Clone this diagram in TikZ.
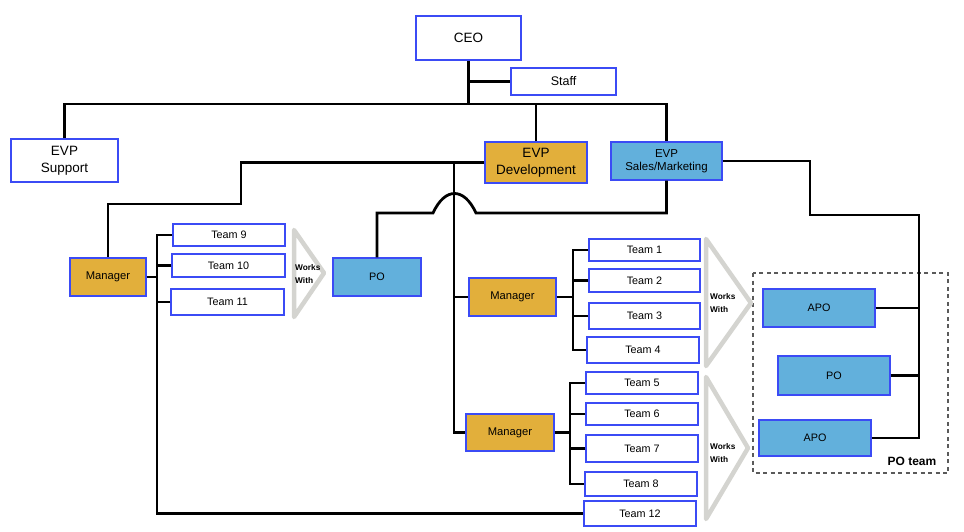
\documentclass[tikz,border=0pt]{standalone}
\usepackage{fontspec}
\setmainfont{Liberation Sans}
\definecolor{bordc}{HTML}{3B4BF5}
\definecolor{orng}{HTML}{E2AF3B}
\definecolor{lblue}{HTML}{62B0DC}
\definecolor{wgray}{HTML}{D4D4D0}
\definecolor{dgray}{HTML}{5A5A5A}
\begin{document}
\begin{tikzpicture}[x=1pt,y=1pt,
  box/.style={draw=bordc,line width=1.4pt,inner sep=0pt,align=center},
  wbox/.style={box,fill=white},
  obox/.style={box,fill=orng},
  bbox/.style={box,fill=lblue},
  conn/.style={draw=black,line width=2.8pt},
  wwarrow/.style={draw=wgray,line width=4.5pt,line join=round},
  wwtext/.style={font=\bfseries\fontsize{8.3}{13}\selectfont,align=left,inner sep=0pt,anchor=west},
  big/.style={font=\fontsize{13.5}{17}\selectfont},
  mid/.style={font=\fontsize{11.5}{13.5}\selectfont},
  small/.style={font=\fontsize{10.8}{12}\selectfont}
]
\useasboundingbox (0,0) rectangle (964,-532);

% top level
\node[wbox,big,minimum width=105pt,minimum height=44pt] (ceo) at (468.5,-38) {CEO};
\node[wbox,big,font=\fontsize{12.5}{15}\selectfont,minimum width=105pt,minimum height=27pt] (staff) at (563.5,-81.5) {Staff};
\node[wbox,big,minimum width=107pt,minimum height=43pt] (evpsup) at (64.5,-160.5) {EVP\\Support};
\node[obox,big,minimum width=102pt,minimum height=41pt] (evpdev) at (536,-162.5) {EVP\\Development};
\node[bbox,mid,minimum width=111pt,minimum height=38pt] (evpsales) at (666.5,-161) {EVP\\Sales/Marketing};

% managers and POs
\node[obox,small,font=\fontsize{11.2}{12}\selectfont,minimum width=76pt,minimum height=38pt] (mgrL) at (108,-277) {Manager};
\node[bbox,small,minimum width=88pt,minimum height=38pt] (poL) at (377,-277) {PO};
\node[obox,small,font=\fontsize{11.2}{12}\selectfont,minimum width=87pt,minimum height=38pt] (mgrA) at (512.5,-297) {Manager};
\node[obox,small,font=\fontsize{11.2}{12}\selectfont,minimum width=88pt,minimum height=37pt] (mgrB) at (510,-432.5) {Manager};

% teams
\node[wbox,small,minimum width=112pt,minimum height=22pt] (t9) at (229,-235) {Team 9};
\node[wbox,small,minimum width=113pt,minimum height=23pt] (t10) at (228.5,-265.5) {Team 10};
\node[wbox,small,minimum width=113pt,minimum height=26pt] (t11) at (227.5,-302) {Team 11};
\node[wbox,small,minimum width=111pt,minimum height=22pt] (t1) at (644.5,-250) {Team 1};
\node[wbox,small,minimum width=111pt,minimum height=23pt] (t2) at (644.5,-280.5) {Team 2};
\node[wbox,small,minimum width=111pt,minimum height=26pt] (t3) at (644.5,-316) {Team 3};
\node[wbox,small,minimum width=112pt,minimum height=26pt] (t4) at (643,-350) {Team 4};
\node[wbox,small,minimum width=112pt,minimum height=22pt] (t5) at (642,-383) {Team 5};
\node[wbox,small,minimum width=112pt,minimum height=22pt] (t6) at (642,-414) {Team 6};
\node[wbox,small,minimum width=112pt,minimum height=27pt] (t7) at (642,-448.5) {Team 7};
\node[wbox,small,minimum width=112pt,minimum height=24pt] (t8) at (641,-484) {Team 8};
\node[wbox,small,minimum width=112pt,minimum height=25pt] (t12) at (640,-513.5) {Team 12};

% PO team
\draw[dgray,line width=1.8pt,dash pattern=on 4pt off 3.5pt] (753,-273) rectangle (948,-473);
\node[bbox,small,minimum width=112pt,minimum height=38pt] (apo1) at (819,-308) {APO};
\node[bbox,small,minimum width=112pt,minimum height=39pt] (poR) at (834,-375.5) {PO};
\node[bbox,small,minimum width=112pt,minimum height=36pt] (apo2) at (815,-438) {APO};
\node[font=\bfseries\fontsize{12}{14}\selectfont,inner sep=0pt] (poteam) at (912,-461) {PO team};

% coordinates
\coordinate (busC) at (470,-104);
\coordinate (c1) at (241,-204);
\coordinate (trunk) at (454,-162);
\coordinate (br1) at (433,-213);
\coordinate (br2) at (476,-213);
\coordinate (lb) at (157,-236);
\coordinate (ub) at (573,-250);
\coordinate (db) at (570,-383);
\coordinate (c2) at (810,-215);
\coordinate (rb) at (919,-215);

% connectors
\draw[conn] (ceo.south) -- (ceo.south |- busC);
\draw[conn] (ceo.south |- staff.west) -- (staff.west);
\draw[conn] (evpsup.north) -- (evpsup.north |- busC) -- (evpsales.north |- busC) -- (evpsales.north);
\draw[conn] (evpdev.north) -- (evpdev.north |- busC);
\draw[conn] (evpdev.west) -| (c1) -| (mgrL.north);
\draw[conn] (trunk) -- (trunk |- mgrB.west) -- (mgrB.west);
\draw[conn] (trunk |- mgrA.west) -- (mgrA.west);
\draw[conn] (poL.north) |- (br1) .. controls (445,-187) and (464,-187) .. (br2) -| (evpsales.south);
% left teams
\draw[conn] (t9.west) -- (t9.west -| lb) -- (lb |- t12.west) -- (t12.west);
\draw[conn] (t10.west) -- (t10.west -| lb);
\draw[conn] (t11.west) -- (t11.west -| lb);
\draw[conn] (mgrL.east) -- (mgrL.east -| lb);
% upper teams
\draw[conn] (t1.west) -- (t1.west -| ub) -- (t4.west -| ub) -- (t4.west);
\draw[conn] (t2.west) -- (t2.west -| ub);
\draw[conn] (t3.west) -- (t3.west -| ub);
\draw[conn] (mgrA.east) -- (mgrA.east -| ub);
% lower teams
\draw[conn] (t5.west) -- (t5.west -| db) -- (t8.west -| db) -- (t8.west);
\draw[conn] (t6.west) -- (t6.west -| db);
\draw[conn] (t7.west) -- (t7.west -| db);
\draw[conn] (mgrB.east) -- (mgrB.east -| db);
% sales to PO team
\draw[conn] (evpsales.east) -| (c2) -- (rb) -- (rb |- apo2.east) -- (apo2.east);
\draw[conn] (apo1.east) -- (apo1.east -| rb);
\draw[conn] (poR.east) -- (poR.east -| rb);

% works with
\draw[wwarrow] (294,-230) -- (324,-273) -- (294,-317) -- cycle;
\node[wwtext] (ww1) at (295,-274) {Works\\With};
\draw[wwarrow] (706,-239) -- (751,-303) -- (706,-366) -- cycle;
\node[wwtext] (ww2) at (710,-303.5) {Works\\With};
\draw[wwarrow] (706,-377) -- (748,-448) -- (706,-519) -- cycle;
\node[wwtext] (ww3) at (710,-453.5) {Works\\With};
\end{tikzpicture}
\end{document}
